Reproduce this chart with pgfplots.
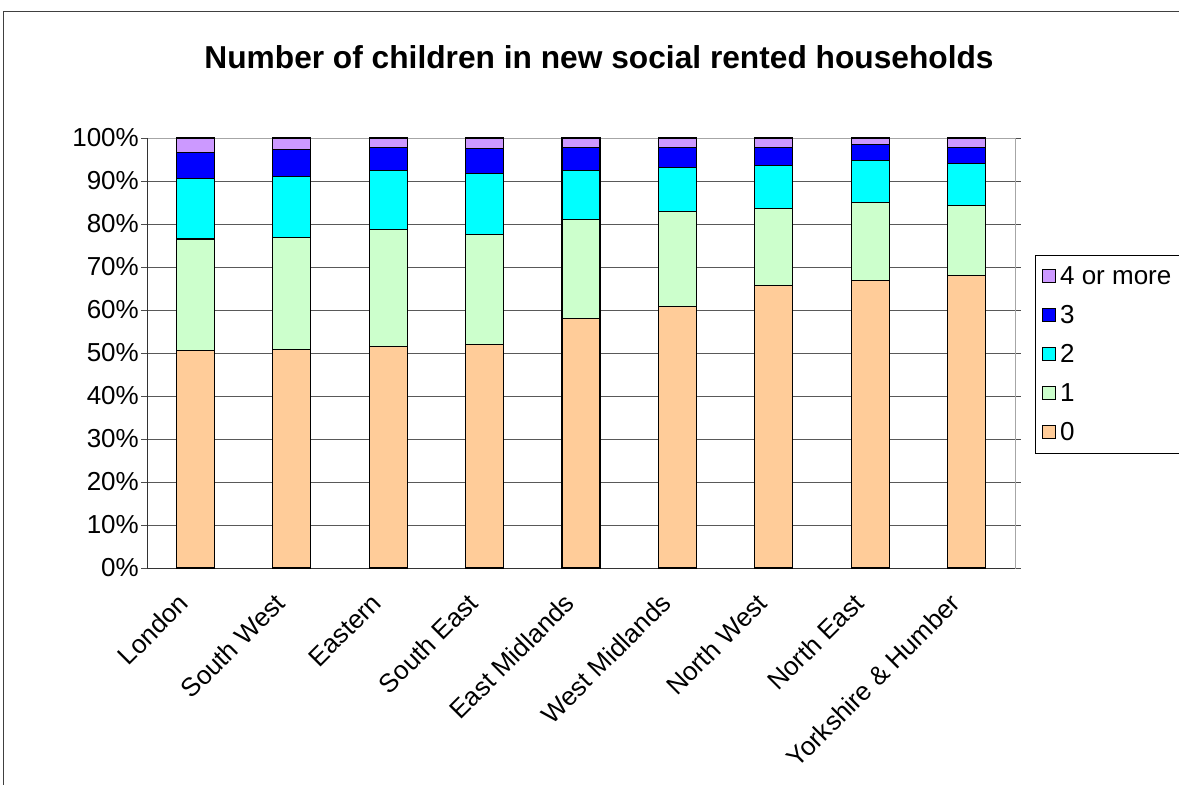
\documentclass[border=0pt]{standalone}
\usepackage{pgfplots}
\usepackage{pgfplotstable}
\pgfplotsset{compat=1.18}
\usepackage{fontspec}
\setmainfont{Liberation Sans}
\definecolor{c0}{HTML}{FFCC99}
\definecolor{c1}{HTML}{CCFFCC}
\definecolor{c2}{HTML}{00FFFF}
\definecolor{c3}{HTML}{0000FF}
\definecolor{c4}{HTML}{CC99FF}
\pgfplotstableread{
x z0 z1 z2 z3 z4
0 50.5 26.0 14.0 6.1 3.4
1 50.9 26.0 14.1 6.4 2.6
2 51.6 27.2 13.6 5.4 2.2
3 52.0 25.6 14.1 5.9 2.4
4 58.0 23.0 11.4 5.3 2.3
5 60.9 22.0 10.3 4.5 2.3
6 65.8 17.8 10.0 4.1 2.3
7 66.9 18.1 9.7 3.7 1.6
8 68.0 16.3 9.7 3.7 2.3
}\datatable
\begin{document}
\begin{tikzpicture}
\useasboundingbox (0pt,0pt) rectangle (1179pt,785pt);
\draw[black!75, line width=0.8pt] (3pt,-5pt) -- (3pt,774pt) -- (1190pt,774pt);
\node[font=\fontsize{31.7}{36}\selectfont\bfseries] at (599pt,728pt) {Number of children in new social rented households};
\begin{axis}[
  at={(147pt,217pt)}, anchor=south west,
  scale only axis, width=868pt, height=430pt,
  ybar stacked, bar width=38pt,
  xmin=-0.5, xmax=8.5, ymin=0, ymax=100,
  ytick={0,10,...,100},
  yticklabel={\pgfmathprintnumber[assume math mode=true]{\tick}\%},
  xtick={0,...,8},
  xticklabels={London,South West,Eastern,South East,East Midlands,West Midlands,North West,North East,Yorkshire \& Humber},
  extra x ticks={-0.5,0.5,...,8.5},
  extra x tick labels={},
  extra x tick style={major tick length=7pt, tick style={black, line width=0.8pt}},
  x tick style={draw=none},
  y tick style={black!70, line width=0.8pt},
  tick align=outside, major tick length=6pt,
  ymajorgrids, grid style={black!65, line width=0.8pt},
  axis line style={draw=black!35, line width=0.8pt},
  ticklabel style={font=\fontsize{26}{30}\selectfont},
  xticklabel style={xshift=-10pt, yshift=-23pt, rotate=45, anchor=east, inner sep=2pt},
  yticklabel style={inner sep=2pt},
  every axis plot/.append style={draw=black, line width=1.1pt},
  legend style={at={(axis description cs:1.023,0.728)}, anchor=north west,
    draw=black, line width=0.6pt, font=\fontsize{26}{30}\selectfont,
    row sep=15.5pt, inner xsep=7pt, inner ysep=9pt},
  legend cell align=left,
  reverse legend,
  legend image code/.code={\draw[#1, draw=black, line width=0.6pt] (0pt,-6.5pt) rectangle (13pt,6.5pt); \path (15pt,0pt);},
]
\addplot[fill=c0] table[x=x,y=z0]{\datatable};
\addplot[fill=c1] table[x=x,y=z1]{\datatable};
\addplot[fill=c2] table[x=x,y=z2]{\datatable};
\addplot[fill=c3] table[x=x,y=z3]{\datatable};
\addplot[fill=c4] table[x=x,y=z4]{\datatable};
\legend{0,1,2,3,4 or more}
\draw[black!80, line width=0.9pt] (rel axis cs:0,1) -- (rel axis cs:0,0) -- (rel axis cs:1,0);
\end{axis}
\end{tikzpicture}
\end{document}
